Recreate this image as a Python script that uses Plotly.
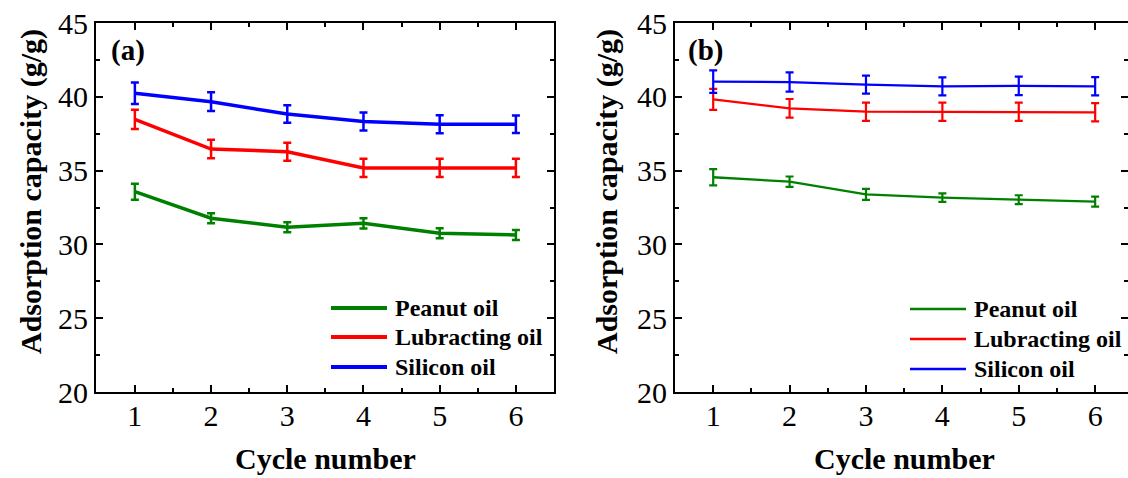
import plotly.graph_objects as go

W, H = 1128, 478

cycles = [1, 2, 3, 4, 5, 6]
series_names = ["Peanut oil", "Lubracting oil", "Silicon oil"]
colors = ["#008000", "#ff0000", "#0000ff"]

# Panel (a)
a_peanut = [33.57, 31.77, 31.16, 31.43, 30.75, 30.64]
a_peanut_err = [0.54, 0.34, 0.34, 0.35, 0.34, 0.34]
a_lub = [38.47, 36.46, 36.28, 35.18, 35.18, 35.18]
a_lub_err = [0.65, 0.63, 0.61, 0.62, 0.62, 0.62]
a_sil = [40.24, 39.67, 38.83, 38.32, 38.14, 38.14]
a_sil_err = [0.73, 0.64, 0.59, 0.61, 0.61, 0.60]

# Panel (b)
b_peanut = [34.55, 34.25, 33.39, 33.17, 33.03, 32.90]
b_peanut_err = [0.55, 0.35, 0.37, 0.29, 0.30, 0.34]
b_lub = [39.83, 39.22, 38.99, 38.99, 38.99, 38.95]
b_lub_err = [0.71, 0.63, 0.62, 0.62, 0.62, 0.62]
b_sil = [41.03, 41.00, 40.82, 40.71, 40.74, 40.71]
b_sil_err = [0.76, 0.65, 0.61, 0.61, 0.63, 0.62]

y_ticks = [20, 25, 30, 35, 40, 45]
x_ticks = [1, 2, 3, 4, 5, 6]
x_title = "Cycle number"
y_title = "Adsorption capacity (g/g)"
panel_labels = ["(a)", "(b)"]


def px(x):
    return x / W


def py(y):
    return 1 - y / H


FONT = "Liberation Serif, Times New Roman, serif"

fig = go.Figure()

panels = [
    dict(vals=[a_peanut, a_lub, a_sil], errs=[a_peanut_err, a_lub_err, a_sil_err],
         xa="x", ya="y", lw=3.5, ew=2.5),
    dict(vals=[b_peanut, b_lub, b_sil], errs=[b_peanut_err, b_lub_err, b_sil_err],
         xa="x2", ya="y2", lw=2.3, ew=2.2),
]

for p in panels:
    for name, col, v, e in zip(series_names, colors, p["vals"], p["errs"]):
        fig.add_trace(go.Scatter(
            x=cycles, y=v, mode="lines", name=name,
            line=dict(color=col, width=p["lw"]),
            error_y=dict(type="data", array=e, visible=True, color=col,
                         thickness=p["ew"], width=4),
            xaxis=p["xa"], yaxis=p["ya"], showlegend=False,
        ))

y_dom = [py(392), py(23)]
axis_common = dict(
    showline=True, linecolor="black", linewidth=2, mirror="allticks",
    ticks="inside", ticklen=7, tickwidth=2, tickcolor="black",
    showgrid=False, zeroline=False, automargin=False,
    tickfont=dict(family=FONT, size=30, color="black"),
)
x_minor = dict(tickvals=[1.5, 2.5, 3.5, 4.5, 5.5], ticklen=4, tickwidth=2,
               ticks="inside", tickcolor="black")
y_minor = dict(tickvals=[22.5, 27.5, 32.5, 37.5, 42.5], ticklen=4, tickwidth=2,
               ticks="inside", tickcolor="black")

fig.update_layout(
    width=W, height=H,
    margin=dict(l=0, r=0, t=0, b=0),
    paper_bgcolor="white", plot_bgcolor="white",
    showlegend=False,
    xaxis=dict(domain=[px(96), px(554)], range=[0.49, 6.5], tickvals=x_ticks,
               minor=x_minor, anchor="y", ticklabelstandoff=-4, **axis_common),
    yaxis=dict(domain=y_dom, range=[20, 45], tickvals=y_ticks,
               minor=y_minor, anchor="x", **axis_common),
    xaxis2=dict(domain=[px(675), 1.0], range=[0.5, 6.43], tickvals=x_ticks,
                minor=x_minor, anchor="y2", ticklabelstandoff=-4, **axis_common),
    yaxis2=dict(domain=y_dom, range=[20, 45], tickvals=y_ticks,
                minor=y_minor, anchor="x2", **axis_common),
)

title_font = dict(family=FONT, size=30, color="black")
annotations = []
# axis titles
for cx in [325, 904]:
    annotations.append(dict(text="<b>%s</b>" % x_title, x=px(cx), y=py(458), xref="paper", yref="paper",
                            showarrow=False, font=title_font, xanchor="center", yanchor="middle"))
for cx in [31, 607]:
    annotations.append(dict(text="<b>%s</b>" % y_title, x=px(cx), y=py(192), xref="paper", yref="paper",
                            showarrow=False, font=title_font, textangle=-90,
                            xanchor="center", yanchor="middle"))
# panel labels
for lbl, lx in zip(panel_labels, [109, 686]):
    annotations.append(dict(text="<b>%s</b>" % lbl, x=px(lx), y=py(50), xref="paper", yref="paper",
                            showarrow=False, font=dict(family=FONT, size=29, color="black"),
                            xanchor="left", yanchor="middle"))

# manual legends
shapes = []
legend_specs = [
    dict(x0=331, x1=387, tx=393, ys=[308, 337, 367], lw=4),
    dict(x0=910, x1=966, tx=972, ys=[309, 339, 369], lw=2.5),
]
for spec in legend_specs:
    for name, col, yy in zip(series_names, colors, spec["ys"]):
        shapes.append(dict(type="line", xref="paper", yref="paper",
                           x0=px(spec["x0"]), x1=px(spec["x1"]), y0=py(yy), y1=py(yy),
                           line=dict(color=col, width=spec["lw"])))
        annotations.append(dict(text="<b>%s</b>" % name, x=px(spec["tx"]), y=py(yy),
                                xref="paper", yref="paper", showarrow=False,
                                font=dict(family=FONT, size=24, color="black"),
                                xanchor="left", yanchor="middle"))

fig.update_layout(annotations=annotations, shapes=shapes)

fig.write_html(
    "out.html",
    config={"displayModeBar": False},
    post_script="document.body.style.margin='0';document.body.style.padding='0';"
                "document.body.style.overflow='hidden';",
)
